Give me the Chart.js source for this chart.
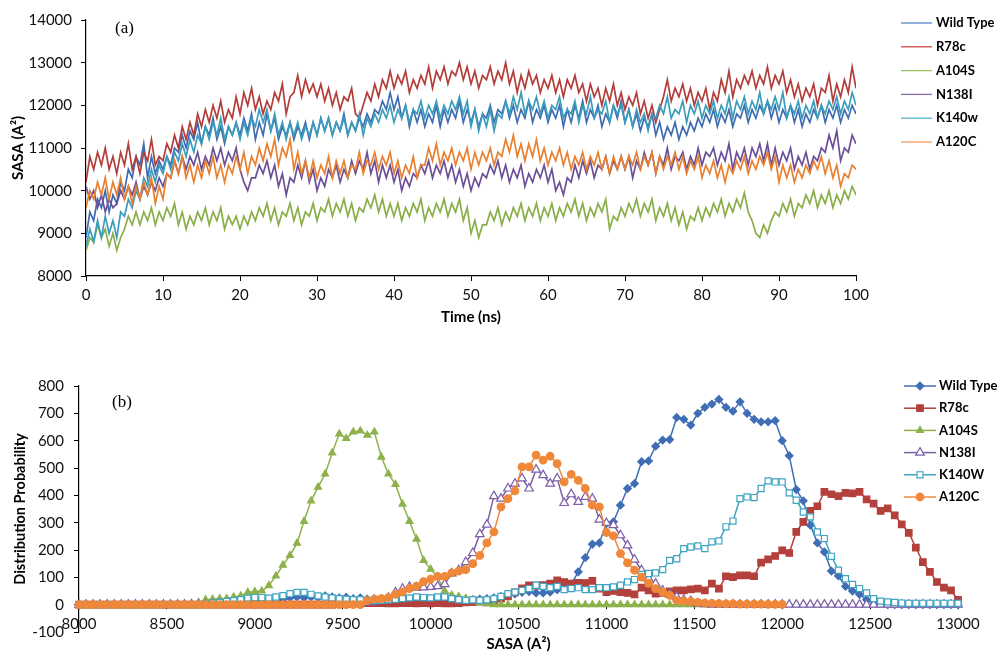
<!DOCTYPE html>
<html>
<head>
<meta charset="utf-8">
<title>SASA</title>
<script src="https://cdn.jsdelivr.net/npm/chart.js@4.4.1/dist/chart.umd.min.js"></script>
<style>
  html, body { margin: 0; padding: 0; background: #fff; overflow: hidden; }
  #wrapA { position: absolute; left: 0; top: 0; width: 999px; height: 330px; }
  #wrapB { position: absolute; left: 0; top: 360px; width: 999px; height: 295px; }
</style>
</head>
<body>
<div id="wrapA"><canvas id="timeChart"></canvas></div>
<div id="wrapB"><canvas id="distChart"></canvas></div>
<script>
// ---- panel (a): SASA vs time, one value every 0.5 ns ----
const TIME_STEP = 0.5;
const timeLabels = ["Wild Type", "R78c", "A104S", "N138I", "K140w", "A120C"];

const wildType = [
  8900,9500,9300,9800,9600,10000,9500,9900,9700,10200,10000,10500,10300,10800,10600,11100,10300,10800,10400,10700,
  10500,10800,10600,11000,10900,11300,11000,11400,11200,11600,11100,11500,11300,11700,11200,11500,11100,11500,11300,11600,
  11300,11700,11400,11800,11200,11600,11300,11800,11400,11700,11200,11500,11300,11600,11200,11500,11300,11600,11200,11600,
  11300,11700,11400,11700,11300,11600,11400,11800,11300,11600,11400,11700,11500,11800,11600,11900,11800,12100,11900,12300,
  11900,12200,11700,12000,11500,11900,11600,11900,11500,11800,11600,12000,11500,11900,11600,11900,11700,12100,11600,11900,
  11600,11900,11500,11800,11700,12000,11600,11900,11800,12100,11700,12000,11600,11900,11700,12100,11600,11900,11700,12000,
  11600,11900,11700,12000,11500,11900,11600,12000,11700,12100,11600,11900,11700,12000,11500,11800,11600,12000,11700,12100,
  11600,11900,11500,11800,11400,11700,11500,11800,11300,11600,11200,11500,11300,11600,11200,11500,11300,11600,11400,11700,
  11500,11800,11600,11900,11500,11800,11600,11900,11500,11800,11700,12000,11600,11900,11700,12000,11800,12100,11700,12000,
  11600,11900,11700,12000,11600,11900,11500,11800,11600,11900,11700,12000,11600,11900,11700,12000,11600,11900,11700,12000,
  11800
];
const r78c = [
  10200,10800,10500,10900,10600,11000,10500,10800,10400,10900,10600,11100,10500,10800,10400,10900,10700,11200,10600,10800,
  10700,11100,10900,11300,11000,11500,11200,11600,11300,11800,11500,11900,11600,12000,11700,12100,11600,11900,11700,12200,
  11800,12300,12000,12400,11900,12200,11800,12100,11900,12300,12100,12500,11800,12200,12300,12700,12200,12600,12300,12500,
  12200,12500,12100,12400,12000,12300,11900,12200,12100,12400,11800,11700,12000,12300,12100,12500,12200,12600,12400,12800,
  12400,12700,12500,12800,12300,12600,12400,12700,12500,12900,12400,12800,12600,12900,12500,12800,12700,13000,12600,12900,
  12500,12800,12400,12700,12600,12900,12500,12800,12600,13000,12500,12800,12300,12700,12400,12800,12500,12700,12300,12600,
  12400,12700,12300,12600,12200,12600,12400,12700,12300,12500,12100,12500,12200,12400,12000,12400,12100,12500,12000,12300,
  11900,12200,12000,12300,11800,12100,11700,12000,11600,11900,12200,12600,12100,12400,12200,12500,12100,12400,12000,12300,
  12100,12400,11900,12300,12100,12600,12300,12800,12200,12600,12400,12700,12500,12800,12400,12700,12500,12900,12400,12700,
  12500,12800,12300,12600,12200,12500,12100,12400,12200,12500,12000,12400,12300,12700,12100,12500,12200,12600,12300,12900,
  12400
];
const a104s = [
  8600,8900,8800,9200,8900,9100,8700,9000,8600,8900,9100,9400,9200,9500,9200,9500,9300,9600,9200,9500,
  9300,9600,9400,9700,9200,9500,9100,9400,9200,9500,9300,9600,9200,9500,9300,9600,9100,9400,9200,9400,
  9100,9400,9200,9500,9300,9600,9400,9700,9300,9600,9200,9500,9400,9700,9300,9600,9200,9500,9400,9700,
  9300,9600,9500,9800,9400,9700,9500,9800,9400,9700,9300,9600,9500,9800,9600,9900,9500,9800,9400,9700,
  9400,9700,9300,9600,9400,9700,9500,9800,9300,9600,9400,9700,9500,9800,9400,9700,9500,9800,9300,9600,
  9000,9300,8900,9200,9200,9500,9300,9600,9200,9500,9300,9600,9400,9700,9300,9600,9400,9700,9300,9600,
  9400,9700,9300,9600,9400,9700,9500,9800,9400,9700,9300,9600,9400,9700,9500,9800,9100,9400,9300,9600,
  9400,9700,9500,9800,9400,9700,9500,9800,9300,9600,9400,9700,9300,9600,9200,9500,9100,9400,9300,9600,
  9300,9600,9400,9700,9500,9800,9400,9700,9500,9800,9600,9950,9500,9300,9000,8900,9200,9000,9300,9500,
  9400,9700,9500,9800,9400,9700,9600,9900,9700,10000,9600,9900,9700,10000,9600,9900,9700,10000,9800,10100,
  9900
];
const n138i = [
  10100,9800,10000,9600,9900,9500,9800,9600,9700,10000,9800,10100,9900,10200,9800,10100,9900,10200,10000,10300,
  10100,10400,10300,10700,10400,10800,10500,10800,10600,10900,10500,10800,10600,11000,10700,11000,10600,10900,10700,11000,
  10500,10200,10000,10300,10300,10600,10400,10700,10300,10600,10100,10400,9900,10300,10200,10600,10300,10700,10200,10500,
  10000,10300,10100,10500,10300,10600,10200,10500,10300,10700,10400,10700,10500,10900,10400,10700,10200,10600,10300,10600,
  10200,10500,10000,10300,10100,10400,10300,10600,10400,10700,10300,10600,10400,10700,10300,10600,10200,10500,10100,10400,
  10000,10300,10100,10400,10300,10600,10400,10700,10300,10600,10200,10500,10300,10600,10100,10400,10200,10500,10300,10600,
  10200,10500,10000,10200,9900,10300,10200,10600,10300,10700,10400,10700,10300,10600,10500,10800,10400,10700,10500,10800,
  10500,10800,10300,10700,10500,10900,10600,10900,10400,10800,10600,11000,10500,10800,10700,10900,10500,10800,10600,11000,
  10600,10900,10800,11000,10600,10900,10700,11100,10500,10900,10700,11000,10600,11000,10800,11100,10700,11100,10600,11000,
  10600,10900,10700,11000,10500,10800,10600,10900,10500,10800,10700,11000,10900,11300,11000,11400,10700,11000,10900,11300,
  11100
];
const k140w = [
  8700,9100,8800,9300,8900,9400,9000,9300,8900,9500,9400,9800,9600,10000,9800,10300,10100,10500,10200,10600,
  10400,10800,10500,10900,10700,11100,10800,11200,10900,11300,11100,11500,11200,11600,11300,11700,11200,11500,11300,11600,
  11200,11600,11300,11700,11500,11900,11600,11900,11400,11800,11300,11600,11200,11600,11300,11600,11200,11500,11300,11600,
  11300,11700,11400,11700,11300,11600,11400,11700,11300,11600,11400,11800,11300,11700,11500,11800,11600,11900,11700,12000,
  11600,11900,11700,12000,11600,11900,11800,12100,11700,12000,11800,12100,11700,12000,11800,12100,11900,12200,11800,12100,
  11500,11900,11400,11800,11500,11900,11400,11800,11700,12100,11800,12200,11900,12300,11800,12100,11900,12200,11800,12100,
  11700,12000,11900,12200,11700,11900,11800,12100,11600,12000,11800,12200,11700,11900,11800,12100,11600,12000,11800,12000,
  11600,11900,11500,11900,11600,11800,11400,11800,11700,12000,11800,12200,11700,11900,11800,12100,11600,12000,11800,12100,
  11700,12000,11800,12100,11700,12000,11800,12200,11700,12100,11900,12200,11800,12100,11900,12300,11800,12100,11900,12200,
  11900,12300,11700,12000,11800,12100,11700,12000,11800,12100,11700,12000,11800,12100,11900,12200,11800,12100,11900,12300,
  12000
];
const a120c = [
  9600,10000,9800,10200,9900,10300,9800,10200,9900,10300,9800,10100,9700,10100,9800,10200,9900,10300,9700,10100,
  9800,10400,10300,10700,10400,10800,10300,10600,10200,10600,10300,10700,10400,10800,10300,10600,10200,10600,10400,10800,
  10500,10900,10400,10800,10600,11000,10700,11100,10800,11200,10600,11000,10800,11200,10500,10900,10400,10700,10300,10700,
  10300,10600,10400,10800,10300,10700,10400,10700,10300,10600,10500,10900,10400,10700,10600,10900,10500,10800,10600,10900,
  10400,10700,10300,10600,10400,10800,10300,10600,10600,11000,10700,11100,10600,10900,10700,11000,10600,10900,10700,11000,
  10500,10900,10600,10900,10700,11000,10600,10900,10800,11200,10900,11300,10800,11100,10700,11100,10800,11200,10700,11000,
  10600,10900,10700,11000,10600,10900,10500,10800,10600,10900,10500,10800,10600,10900,10500,10800,10400,10800,10500,10800,
  10500,10800,10600,10900,10500,10800,10600,10900,10400,10800,10500,10800,10600,10900,10500,10800,10400,10700,10500,10800,
  10300,10600,10400,10700,10300,10600,10200,10600,10400,10700,10500,10800,10400,10700,10500,10800,10600,10900,10500,10800,
  10200,10600,10300,10600,10200,10500,10300,10600,10400,10700,10500,10800,10400,10700,10300,10600,10100,10400,10300,10600,
  10500
];

// ---- panel (b): distribution of SASA, bins 40 A^2 wide ----
const BIN_START = 8000, BIN_WIDTH = 40;
const distLabels = ["Wild Type", "R78c", "A104S", "N138I", "K140W", "A120C"];

const wtDist = [
  0,0,0,0,0,0,0,0,0,0, 0,0,0,0,0,0,0,0,0,0,
  2,5,8,12,15,18,18,20,22,20, 25,28,25,28,25,32,28,25,27,22,
  25,20,22,18,15,12,10,8,8,10, 12,15,15,15,18,20,18,20,22,25,
  30,35,40,45,48,43,43,46,55,60, 75,120,172,221,226,297,303,364,425,443,
  523,526,580,602,604,685,678,657,700,722, 734,751,722,708,742,700,678,669,669,673,
  600,545,421,380,291,226,193,123,105,67, 50,38,18,10,5,0,0,0,0,0,
  0,0,0,0,0,0
];
const r78Dist = [
  0,0,0,0,0,0,0,0,0,0, 0,0,0,0,0,0,0,0,0,0,
  0,0,0,0,0,0,0,0,0,0, 0,0,0,0,0,0,0,2,3,5,
  5,6,6,6,5,5,6,6,5,6, 5,6,5,5,6,8,10,12,14,16,
  22,30,45,60,71,70,72,77,89,83, 77,80,79,87,59,46,50,46,43,38,
  62,52,40,43,49,52,52,56,59,52, 77,59,104,101,107,107,104,154,166,178,
  199,189,266,303,343,360,413,404,397,409, 407,413,385,370,343,352,327,294,263,209,
  156,120,83,62,52,18
];
const a104Dist = [
  0,0,0,0,0,0,0,0,0,0, 0,0,0,0,0,0,5,8,18,20,
  22,22,28,32,45,48,50,70,105,145, 180,225,305,380,430,478,555,625,608,632,
  636,620,632,540,478,440,368,305,240,162, 130,100,50,35,30,23,15,8,3,0,
  0,0,0,0,0,0,0,0,0,0, 0,0,0,0,0,0,0,0,0,0,
  0,0,0,0,0,0,0,0,0,0, 0,0,0,0,0,0,0,0,0,0,
  0,0,0,0,0,0,0,0,0,0, 0,0,0,0,0,0,0,0,0,0,
  0,0,0,0,0,0
];
const n138Dist = [
  0,0,0,0,0,0,0,0,0,0, 0,0,0,0,0,0,0,0,0,0,
  0,0,0,0,0,0,0,0,0,0, 0,0,0,0,0,0,0,2,4,5,
  6,8,10,15,25,45,58,65,62,63, 65,68,75,114,126,156,189,258,293,397,
  388,425,443,462,425,494,474,443,462,372, 404,376,394,388,311,299,291,254,217,165,
  126,95,77,52,38,28,18,13,4,2, 0,0,0,0,0,0,0,0,0,0,
  0,0,0,0,0,0,0,0,0,0, 0,0,0,0,0,0,0,0,0,0,
  0,0,0,0,0,0
];
const k140Dist = [
  0,0,0,0,0,0,0,0,0,0, 0,0,0,0,0,0,0,0,3,6,
  8,12,15,18,24,26,26,24,28,33, 40,45,45,38,32,28,25,22,20,18,
  18,16,15,16,18,20,22,25,28,26, 25,28,28,22,18,16,18,16,18,22,
  30,40,46,52,59,71,67,62,67,55, 59,62,55,55,62,62,65,71,83,92,
  111,114,116,128,162,168,205,211,215,205, 230,233,285,306,388,394,392,425,453,449,
  449,409,382,339,321,266,242,177,126,95, 74,59,43,22,13,10,8,6,5,5,
  5,5,5,5,5,5
];
const a120Dist = [
  0,0,0,0,0,0,0,0,0,0, 0,0,0,0,0,0,0,0,0,0,
  0,0,0,0,0,0,0,0,0,0, 0,0,0,0,0,0,0,0,0,0,
  0,15,20,22,26,38,47,59,68,84, 93,103,103,116,123,128,150,180,226,266,
  358,388,416,504,504,547,529,543,516,449, 477,455,425,364,358,264,252,187,153,126,
  101,79,59,46,34,16,13,12,8,6, 5,4,3,3,2,2,2,2,1,1,
  1,null,null,null,null,null,null,null,null,null, null,null,null,null,null,null,null,null,null,null,
  null,null,null,null,null,null
];

const timeTicks = [0, 100, 10];       // min, max, step
const sasaTicks = [8000, 14000, 1000];
const binTicks = [8000, 13000, 500];
const probTicks = [-100, 800, 100];

const timeSeries = [wildType, r78c, a104s, n138i, k140w, a120c];
const distSeries = [wtDist, r78Dist, a104Dist, n138Dist, k140Dist, a120Dist];
timeSeries.forEach((s, i) => { if (s.length !== 201) throw new Error("time series " + i + " has " + s.length); });
distSeries.forEach((s, i) => { if (s.length !== 126) throw new Error("dist series " + i + " has " + s.length); });

const timeNs = wildType.map((_, k) => k * TIME_STEP);
const bins = wtDist.map((_, k) => BIN_START + k * BIN_WIDTH);

const lineColors = ["#3e6cb2", "#b23d39", "#8aae48", "#6c4f99", "#3a9dbb", "#e9802f"];
const distColors = ["#3f6eb6", "#b4403c", "#8db14b", "#7d5fa8", "#3fa4c2", "#f0883a"];

Chart.defaults.font.family = 'Lato, "Open Sans", sans-serif';
Chart.defaults.font.size = 15;
Chart.defaults.color = "#111";

// legend on the right side + panel letter
const sideLegend = {
  id: "sideLegend",
  afterDraw(chart, args, opts) {
    const ctx = chart.ctx;
    ctx.save();
    chart.data.datasets.forEach((ds, i) => {
      const y = opts.top + i * opts.gap;
      ctx.strokeStyle = opts.lineColors[i];
      ctx.lineWidth = opts.lineWidth;
      ctx.beginPath();
      ctx.moveTo(opts.x1, y);
      ctx.lineTo(opts.x2, y);
      ctx.stroke();
      if (opts.markers && Chart.helpers && Chart.helpers.drawPoint) {
        ctx.fillStyle = ds.pointBackgroundColor;
        ctx.strokeStyle = ds.pointBorderColor;
        ctx.lineWidth = ds.pointBorderWidth;
        Chart.helpers.drawPoint(ctx, {
          pointStyle: ds.pointStyle, radius: ds.pointRadius,
          borderWidth: ds.pointBorderWidth, rotation: 0
        }, (opts.x1 + opts.x2) / 2, y);
      }
      ctx.fillStyle = "#000";
      ctx.font = 'bold 13px Lato, "Open Sans", sans-serif';
      ctx.textAlign = "left";
      ctx.textBaseline = "middle";
      ctx.fillText(ds.label, opts.textX, y);
    });
    ctx.font = '17px "Liberation Serif", "DejaVu Serif", serif';
    ctx.textBaseline = "middle";
    ctx.fillText(opts.letter, opts.letterX, opts.letterY);
    ctx.restore();
  }
};

const plainNumber = v => String(v);

new Chart(document.getElementById("timeChart"), {
  type: "line",
  data: {
    datasets: timeLabels.map((label, i) => ({
      label,
      data: timeSeries[i].map((v, k) => ({ x: timeNs[k], y: v })),
      borderColor: lineColors[i],
      borderWidth: 1.7,
      pointRadius: 0,
      tension: 0,
      order: timeLabels.length - 1 - i
    }))
  },
  options: {
    animation: false,
    responsive: true,
    maintainAspectRatio: false,
    events: [],
    layout: { padding: { top: 20, right: 143, bottom: 0, left: 0 } },
    plugins: {
      legend: { display: false },
      tooltip: { enabled: false },
      sideLegend: { x1: 901, x2: 932, textX: 936, top: 23, gap: 23.8, lineWidth: 1.3, markers: false,
                    lineColors: ["#5585c8", "#c84c48", "#9cc25c", "#8a6cb0", "#55b3cf", "#f59a55"],
                    letter: "(a)", letterX: 115, letterY: 29 }
    },
    scales: {
      x: {
        type: "linear", min: timeTicks[0], max: timeTicks[1],
        ticks: { stepSize: timeTicks[2], padding: 5, maxRotation: 0, color: "#111" },
        grid: { drawOnChartArea: false, tickLength: 5, color: "#000" },
        border: { color: "#000", width: 1.2 },
        title: { display: true, text: "Time (ns)", font: { size: 15, weight: "bold" }, color: "#000",
                 padding: { top: 0, bottom: 4 } },
        afterFit: s => { s.height = 54; }
      },
      y: {
        min: sasaTicks[0], max: sasaTicks[1],
        ticks: { stepSize: sasaTicks[2], padding: 9, callback: plainNumber, color: "#111" },
        grid: { drawOnChartArea: false, tickLength: 5, color: "#000" },
        border: { color: "#000", width: 1.2 },
        title: { display: true, text: "SASA (A²)", font: { size: 15, weight: "bold" }, color: "#000",
                 padding: { top: 9, bottom: 0 } },
        afterFit: s => { s.width = 86; }
      }
    }
  },
  plugins: [sideLegend]
});

const markerStyles = ["rectRot", "rect", "triangle", "triangle", "rect", "circle"];
const markerRadius = [3.8, 4.6, 4, 5, 4.3, 3.8];
const markerHollow = [false, false, false, true, true, false];

new Chart(document.getElementById("distChart"), {
  type: "line",
  data: {
    datasets: distLabels.map((label, i) => ({
      label,
      data: distSeries[i].map((v, k) => ({ x: bins[k], y: v })),
      borderColor: distColors[i],
      borderWidth: 1.5,
      pointStyle: markerStyles[i],
      pointRadius: markerRadius[i],
      pointBorderWidth: 1.2,
      pointBorderColor: distColors[i],
      pointBackgroundColor: markerHollow[i] ? "#fff" : distColors[i],
      tension: 0,
      clip: false,
      order: distLabels.length - 1 - i
    }))
  },
  options: {
    animation: false,
    responsive: true,
    maintainAspectRatio: false,
    events: [],
    layout: { padding: { top: 26, right: 41, bottom: 0, left: 0 } },
    plugins: {
      legend: { display: false },
      tooltip: { enabled: false },
      title: { display: true, text: "SASA (A²)", position: "bottom", fullSize: false, color: "#000",
               font: { size: 15, weight: "bold" }, padding: { top: 3.5, bottom: 1.5 } },
      sideLegend: { x1: 904, x2: 936, textX: 939, top: 26, gap: 22.2, lineWidth: 1.5, markers: true,
                    lineColors: distColors,
                    letter: "(b)", letterX: 112, letterY: 43 }
    },
    scales: {
      x: {
        type: "linear", min: binTicks[0], max: binTicks[1], position: { y: 0 },
        ticks: { stepSize: binTicks[2], padding: 6, callback: plainNumber, autoSkip: false, maxRotation: 0, color: "#111" },
        grid: { drawOnChartArea: false, tickLength: 4, color: "#000" },
        border: { color: "#000", width: 1.2 },
        afterFit: s => { s.height = 0; }
      },
      y: {
        min: probTicks[0], max: probTicks[1],
        ticks: { stepSize: probTicks[2], padding: 10, color: "#111" },
        grid: { drawOnChartArea: false, tickLength: 5, color: "#000" },
        border: { color: "#000", width: 1.2 },
        title: { display: true, text: "Distribution Probability", font: { size: 14.5, weight: "bold" }, color: "#000",
                 padding: { top: 12, bottom: 0 } },
        afterFit: s => { s.width = 79; }
      }
    }
  },
  plugins: [sideLegend]
});
</script>
</body>
</html>
